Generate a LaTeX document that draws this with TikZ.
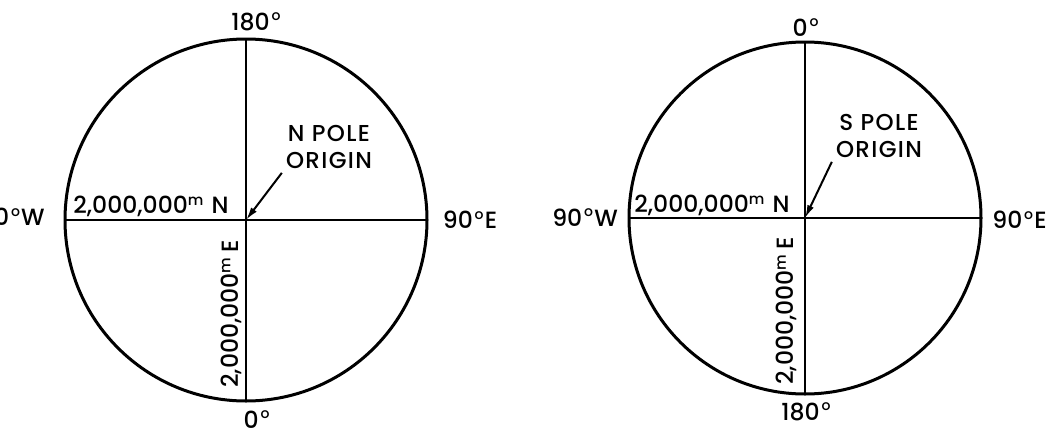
\documentclass[tikz,border=0pt]{standalone}
\usepackage{fontspec}
\setmainfont{Poppins}[UprightFont={* Medium}]
\usetikzlibrary{arrows.meta}
\tikzset{
  rim/.style={draw,circle,line width=3pt,minimum size=#1,inner sep=0pt,outer sep=0pt},
  lbl/.style={inner sep=0pt,font=\fontsize{23.5}{28}\selectfont},
  pole/.style={inner sep=4pt,align=center,font=\fontsize{23}{27}\selectfont\addfontfeature{LetterSpace=6}},
  axis/.style={line width=2.2pt},
  ptr/.style={line width=2pt,-{Latex[length=13pt,width=7pt]}}
}
\newcommand{\dg}{\hspace{0.08em}\raisebox{0.75ex}{\fontsize{14}{14}\selectfont o}\hspace{0.05em}}
\newcommand{\gridN}{2,000,000\raisebox{0.6ex}{\fontsize{15}{15}\selectfont m}\hspace{0.35em}N}
\newcommand{\gridE}{2,000,000\raisebox{0.6ex}{\fontsize{15}{15}\selectfont m}\hspace{0.2em}E}

\begin{document}
\begin{tikzpicture}[x=1pt,y=-1pt]
  \useasboundingbox (0,0) rectangle (1047,429);
  % north pole
  \node[rim=362pt] (nC) at (246,220) {};
  \draw[axis] (nC.west) -- (nC.east);
  \draw[axis] (nC.north) -- (nC.south);
  \coordinate (nO) at (nC.center);
  \node[lbl] (nTop) at (256,21.5) {180\dg};
  \node[lbl] (nBot) at (256.5,419.5) {0\dg};
  \node[lbl] (nE) at (470,220) {90\dg E};
  \node[lbl] (nW) at (12,217) {90\dg W};
  \node[lbl] (nN) at (151,206) {\gridN};
  \node[lbl,rotate=90] (nEast) at (231,314) {\gridE};
  \node[pole] (nP) at (329,147) {N POLE\\ORIGIN};
  \draw[ptr] (nP.south west) -- (nO);
  % south pole
  \node[rim=352pt] (sC) at (805,218) {};
  \draw[axis] (sC.west) -- (sC.east);
  \draw[axis] (sC.north) -- (sC.south);
  \coordinate (sO) at (sC.center);
  \node[lbl] (sTop) at (805.5,27.5) {0\dg};
  \node[lbl] (sBot) at (806,412) {180\dg};
  \node[lbl] (sE) at (1019.5,220) {90\dg E};
  \node[lbl] (sW) at (585,217.5) {90\dg W};
  \node[lbl] (sN) at (712,205.5) {\gridN};
  \node[lbl,rotate=90] (sEast) at (786.5,311) {\gridE};
  \node[pole] (sP) at (879,136) {S POLE\\ORIGIN};
  \draw[ptr] (sP.south west) -- (sO);
\end{tikzpicture}
\end{document}
